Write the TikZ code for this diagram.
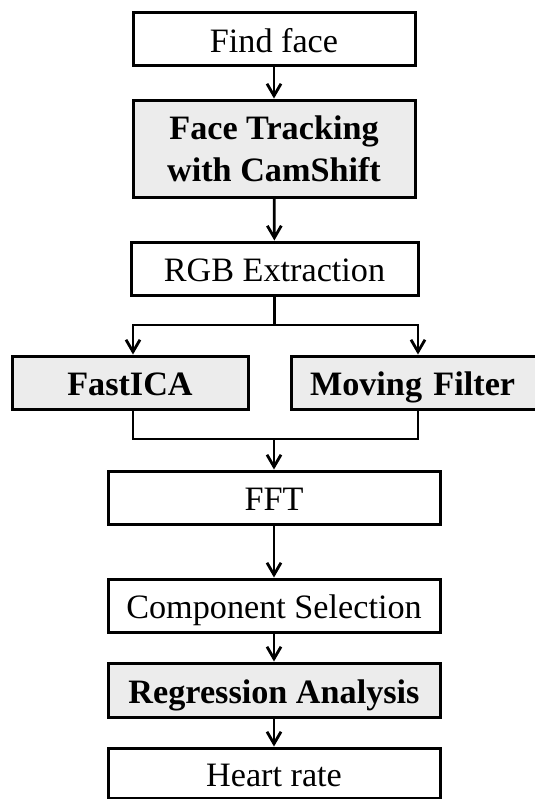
\documentclass[tikz,border=0pt]{standalone}
\usepackage{fontspec}
\setmainfont{Liberation Serif}
\usetikzlibrary{arrows.meta}

\begin{document}
\begin{tikzpicture}[x=0.5pt,y=-0.5pt,
        every node/.style={rectangle,draw,line width=1.5pt,inner sep=0pt,minimum height=26.5pt,text height=14pt,text depth=1pt,font=\fontsize{17.1}{21}\selectfont},
        greybox/.style={fill=gray!15,font=\fontsize{17.1}{21}\selectfont\bfseries},
        flow/.style={line width=1.4pt,-{Straight Barb[length=6pt,width=7pt]}}]
        \useasboundingbox (0,0) rectangle (535,799);
        \clip (0,0) rectangle (535,799);

        \node[minimum width=141pt] at (274,39) (find) {Find face};
        \node[greybox,align=center,text height=,text depth=,minimum width=141pt,minimum height=48.5pt] at (274,148.5) (track) {Face Tracking\\with CamShift};
        \node[minimum width=143.5pt] at (274.5,268.5) (rgb) {RGB Extraction};
        \node[greybox,minimum width=118pt] at (130,382.5) (ica) {FastICA};
        \node[greybox,text width=108pt,align=left,inner xsep=9.5pt] at (418,382.5) (mov) {Moving Filter};
        \node[minimum width=166pt] at (274,497.5) (fft) {FFT};
        \node[minimum width=166pt] at (274,605.5) (comp) {Component Selection};
        \node[greybox,minimum width=166pt,minimum height=27pt] at (274,690) (reg) {Regression Analysis};
        \node[minimum width=166pt,minimum height=25pt] at (274,773) (heart) {Heart rate};

        \coordinate (split) at (274.5,325);
        \coordinate (join) at (274,439);

        \draw[flow] (find) -- (track);
        \draw[flow] (track) -- (rgb);
        \draw[line width=1.4pt] (rgb.south) -- (split);
        \draw[flow] (split) -| ([xshift=1.5pt]ica.north);
        \draw[flow] (split) -| (mov.north);
        \draw[line width=1.4pt] ([xshift=1.5pt]ica.south) |- (join) -| (mov.south);
        \draw[flow] (join) -- (fft);
        \draw[flow] (fft) -- (comp);
        \draw[flow] (comp) -- (reg);
        \draw[flow] (reg) -- (heart);
    \end{tikzpicture}
\end{document}
